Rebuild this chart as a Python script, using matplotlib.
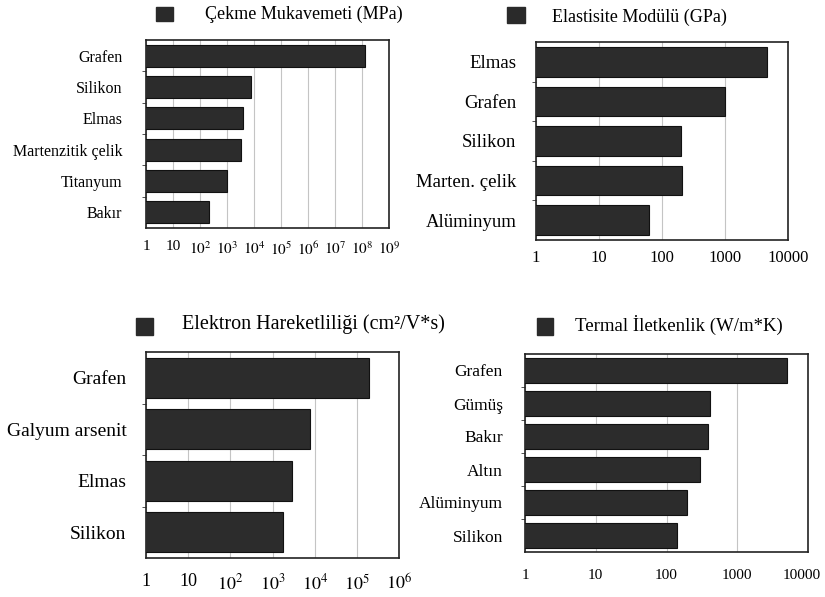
import matplotlib
matplotlib.use('Agg')
from matplotlib import pyplot as plt
from matplotlib.patches import Rectangle
from matplotlib.transforms import ScaledTranslation

plt.rcParams['font.family'] = ['Liberation Serif', 'DejaVu Serif']
plt.rcParams['mathtext.fontset'] = 'stix'

# Çekme Mukavemeti (MPa)
cekme_labels = ['Grafen', 'Silikon', 'Elmas', 'Martenzitik çelik', 'Titanyum', 'Bakır']
cekme_values = [1.3e8, 8e3, 4e3, 3.2e3, 1e3, 220]

# Elastisite Modülü (GPa)
elast_labels = ['Elmas', 'Grafen', 'Silikon', 'Marten. çelik', 'Alüminyum']
elast_values = [4600, 1000, 200, 210, 62]

# Elektron Hareketliliği (cm2/V*s)
elek_labels = ['Grafen', 'Galyum arsenit', 'Elmas', 'Silikon']
elek_values = [1.9e5, 7.8e3, 2.9e3, 1.8e3]

# Termal İletkenlik (W/m*K)
term_labels = ['Grafen', 'Gümüş', 'Bakır', 'Altın', 'Alüminyum', 'Silikon']
term_values = [5000, 410, 390, 300, 195, 140]

exp_ticks_9 = ['1', '10'] + [r'$10^{%d}$' % i for i in range(2, 10)]
exp_ticks_6 = ['1', '10'] + [r'$10^{%d}$' % i for i in range(2, 7)]
dec_ticks_4 = ['1', '10', '100', '1000', '10000']

W, H = 825, 597
fig = plt.figure(figsize=(W / 100, H / 100), dpi=100)


def px_axes(x0, y0, x1, y1):
    return fig.add_axes([x0 / W, 1 - y1 / H, (x1 - x0) / W, (y1 - y0) / H])


def panel(box, labels, values, ndec, ticklabels, ysize, xsize, ypad, xpad, bh):
    ax = px_axes(*box)
    pos = list(range(len(labels)))
    ax.barh(pos, values, height=bh, color='#2c2c2c', edgecolor='#111111',
            linewidth=0.8, zorder=3)
    ax.set_xscale('log')
    ax.set_xlim(1, 10 ** ndec)
    ax.set_ylim(len(labels) - 0.5, -0.5)
    ax.set_xticks([10 ** i for i in range(ndec + 1)])
    ax.set_xticklabels(ticklabels, fontsize=xsize)
    ax.xaxis.set_minor_locator(matplotlib.ticker.NullLocator())
    ax.set_yticks(pos)
    ax.set_yticklabels(labels, fontsize=ysize)
    ax.set_yticks([p + 0.5 for p in pos[:-1]], minor=True)
    ax.tick_params(axis='y', which='major', length=0, pad=ypad)
    ax.tick_params(axis='y', which='minor', length=3, color='#333333')
    ax.tick_params(axis='x', length=0, pad=xpad)
    ax.grid(axis='x', color='#c4c4c4', linewidth=0.8, zorder=0)
    for s in ax.spines.values():
        s.set_color('#222222')
        s.set_linewidth(1.2)
    return ax


def title(sq, tx, ty, text, size):
    x0, y0, x1, y1 = sq
    fig.patches.append(Rectangle((x0 / W, 1 - y1 / H), (x1 - x0) / W, (y1 - y0) / H,
                                 transform=fig.transFigure, color='#2a2a2a'))
    fig.text(tx / W, 1 - ty / H, text, fontsize=size, va='center', ha='left')


panel((146, 40, 389, 228), cekme_labels, cekme_values, 9, exp_ticks_9, 11.5, 11, 17, 9, 0.7)
title((156, 7, 173, 21), 205, 14, 'Çekme Mukavemeti (MPa)', 13)

panel((536, 42, 788, 240), elast_labels, elast_values, 4, dec_ticks_4, 13.5, 12, 14, 7, 0.75)
title((507, 7, 525, 23), 552, 17, 'Elastisite Modülü (GPa)', 13)

panel((146, 352, 399, 558), elek_labels, elek_values, 6, exp_ticks_6, 14, 13, 14, 11, 0.77)
title((136, 318, 153, 335), 182, 324, 'Elektron Hareketliliği (cm²/V*s)', 14.5)

ax4 = panel((525, 354, 808, 552), term_labels, term_values, 4, dec_ticks_4, 12.5, 11, 16, 12, 0.75)
title((537, 318, 553, 335), 575, 325, 'Termal İletkenlik (W/m*K)', 13.5)

# keep the last tick label of the bottom-right panel inside the figure
last = ax4.get_xticklabels()[-1]
last.set_transform(last.get_transform() + ScaledTranslation(-6 / 100, 0, fig.dpi_scale_trans))

fig.savefig('out.png', dpi=100)
